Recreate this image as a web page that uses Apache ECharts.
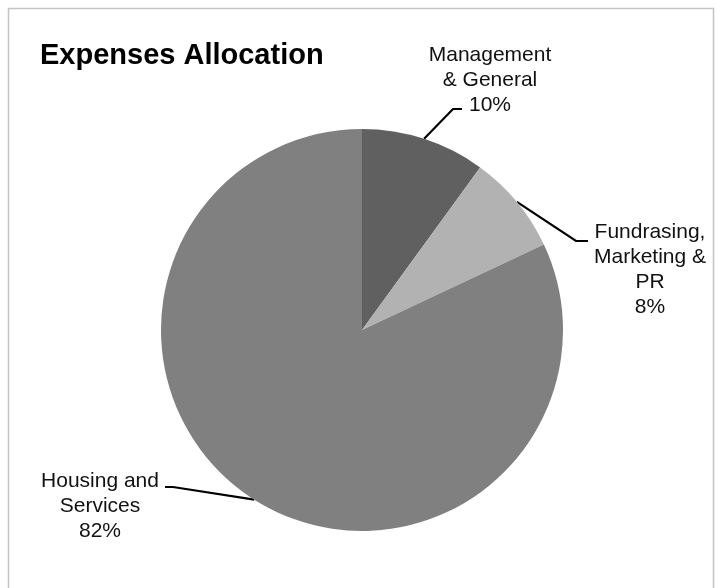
<!DOCTYPE html>
<html>
<head>
<meta charset="utf-8">
<script src="https://cdn.jsdelivr.net/npm/echarts@6/dist/echarts.min.js"></script>
<style>
html,body{margin:0;padding:0;background:#fff;}
#chart{width:717px;height:588px;}
</style>
</head>
<body>
<div id="chart"></div>
<script>
// ---- data ----
var categories = ['Management & General', 'Fundrasing, Marketing & PR', 'Housing and Services'];
var labelLines = ['Management\n& General', 'Fundrasing,\nMarketing &\nPR', 'Housing and\nServices'];
var shares = [10, 8, 82];
var sliceColors = ['#606060', '#b2b2b2', '#808080'];

// ---- label layout (styling only) ----
var labelPlace = [
  { x: 490, y: 80,  bend: [453, 109], end: [462, 109] },
  { x: 650, y: 270, bend: [576, 241], end: [588, 241] },
  { x: 100, y: 506, bend: [173, 487], end: [165, 487] }
];

var chart = echarts.init(document.getElementById('chart'), null, { renderer: 'canvas' });

var data = categories.map(function (c, i) {
  return { name: c, value: shares[i], itemStyle: { color: sliceColors[i] } };
});

chart.setOption({
  animation: false,
  backgroundColor: '#ffffff',
  title: {
    text: 'Expenses Allocation',
    left: 35,
    top: 36,
    textStyle: { fontFamily: 'Liberation Sans, Arial, sans-serif', fontWeight: 'bold', fontSize: 29, color: '#000' }
  },
  graphic: [{
    type: 'rect',
    silent: true,
    shape: { x: 8.5, y: 8.5, width: 705, height: 640 },
    style: { fill: 'none', stroke: '#c4c4c4', lineWidth: 1.5 }
  }],
  series: [{
    type: 'pie',
    center: [362, 330],
    radius: 201,
    startAngle: 90,
    clockwise: true,
    silent: true,
    percentPrecision: 0,
    itemStyle: { borderWidth: 0 },
    label: {
      show: true,
      position: 'outside',
      formatter: function (p) { return labelLines[p.dataIndex] + '\n' + p.percent + '%'; },
      fontFamily: 'Liberation Sans, Arial, sans-serif',
      fontSize: 21,
      lineHeight: 25,
      color: '#111',
      align: 'center'
    },
    labelLine: {
      show: true,
      smooth: false,
      lineStyle: { color: '#000', width: 2.2 }
    },
    labelLayout: function (params) {
      var lp = labelPlace[params.dataIndex];
      var start = params.labelLinePoints ? params.labelLinePoints[0] : lp.bend;
      return {
        x: lp.x,
        y: lp.y,
        align: 'center',
        verticalAlign: 'middle',
        labelLinePoints: [start, lp.bend, lp.end]
      };
    },
    data: data
  }]
});
</script>
</body>
</html>
